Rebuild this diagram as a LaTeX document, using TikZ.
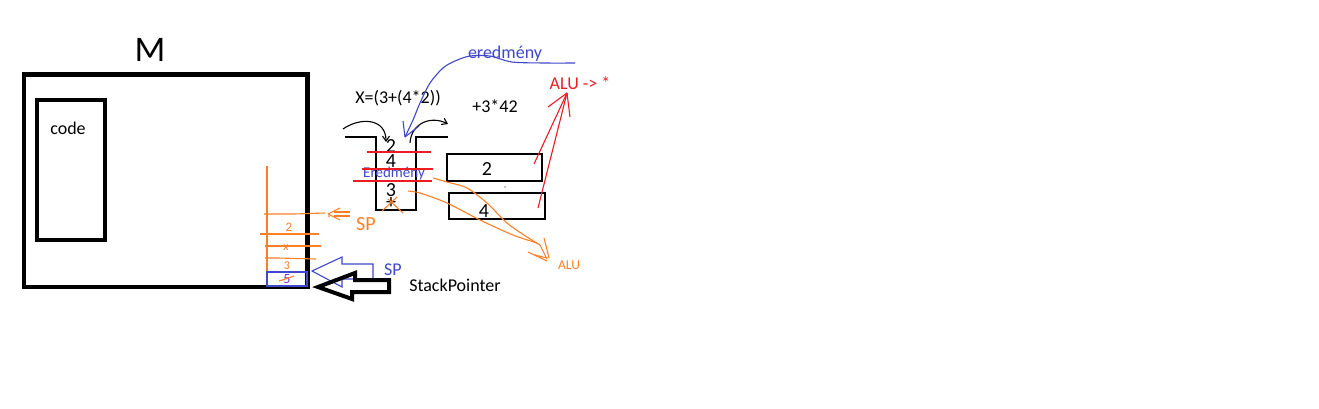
\documentclass[tikz,border=0pt]{standalone}
\usepackage{fontspec}
\setmainfont{Carlito}
\usetikzlibrary{arrows.meta}
\definecolor{porange}{RGB}{255,127,39}
\definecolor{pblue}{RGB}{63,72,204}
\definecolor{pred}{RGB}{237,28,36}
\begin{document}
\begin{tikzpicture}[x=1pt,y=-1pt,
  txt/.style={inner sep=0pt,font=\fontsize{18}{21}\selectfont},
  dig/.style={inner sep=0pt,font=\fontsize{20}{23}\selectfont},
  thin/.style={line width=1.1pt},
  barb/.style={-{Straight Barb[length=5pt,width=7pt]}}]
\useasboundingbox[fill=white] (0,0) rectangle (1319,408);

% memory
\node[inner sep=0pt,font=\fontsize{36}{40}\selectfont] (m) at (150,50) {M};
\draw[line width=4.5pt] (24,74.5) rectangle (307.5,287);
\draw[line width=4pt] (36.5,100) rectangle (104.5,240);
\node[txt] (code) at (68,128) {code};

% orange stack in memory
\draw[porange,thin] (267,166) -- (267,287);
\draw[porange,thin] (264,214) -- (294,214) -- (325,213);
\fill[porange] (329,216) circle (1pt);
\draw[porange,thin] (260,234) -- (319,234);
\draw[porange,thin] (265,246) -- (321,246);
\draw[porange,thin] (265,258) -- (278,258) -- (316,259);
\node[inner sep=0pt,text=porange,font=\fontsize{13}{15}\selectfont] (s2) at (289,227) {2};
\node[inner sep=0pt,text=porange,font=\fontsize{12}{15}\selectfont] (sx) at (286,248) {x};
\node[inner sep=0pt,text=porange,font=\fontsize{12}{15}\selectfont] (s3) at (287,266) {3};
\node[inner sep=0pt,text=pblue!70!magenta,font=\fontsize{14}{15}\selectfont] (s5) at (287,279) {5};
\draw[porange,thin] (279,281) -- (294,276);
\draw[pblue,thin] (267,272) rectangle (307,286);

% orange SP
\draw[porange,thin] (328,214) -- (340,208);
\draw[porange,thin] (328,214) -- (340,220);
\draw[porange,thin] (334,212) -- (350,212);
\draw[porange,thin] (334,216) -- (350,216);
\node[inner sep=0pt,text=porange,font=\fontsize{20}{22}\selectfont] (osp) at (366,224) {SP};

% blue hollow arrow
\draw[pblue,thin] (312,271) -- (342,257) -- (342,264) -- (373,264) -- (373,279) -- (342,279) -- (342,287) -- cycle;
\node[inner sep=0pt,text=pblue,font=\fontsize{18}{20}\selectfont] (bsp) at (393,270) {SP};

% black hollow arrow
\draw[line width=4pt,line join=miter] (318,287) -- (355,273) -- (355,280) -- (389,280) -- (389,292) -- (352,292) -- (352,299) -- cycle;
\node[txt] (spt) at (455,285) {StackPointer};

% expression texts
\node[txt] (expr) at (398,98) {X=(3+(4*2))};
\node[txt] (pre) at (495,106) {+3*42};
\node[txt,text=pblue] (ered) at (505,54) {eredmény};
\node[txt,text=pred] (alu) at (580,83) {ALU -> *};

% middle stack
\coordinate (stl) at (345,137);
\coordinate (str) at (448,137);
\draw[thin] (stl) -- (376,137) -- (376,210) -- (416,210) -- (416,137) -- (str);
\node[dig] (m2) at (391,146) {2};
\node[dig] (m4) at (391,161.5) {4};
\node[inner sep=0pt,text=pblue,font=\fontsize{15}{17}\selectfont] (mer) at (394,173.5) {Eredmény};
\node[dig] (m3) at (391,190) {3};
\node[dig] (mp) at (391,203) {+};
\draw[pred,thin] (367,152) -- (431,152);
\draw[pred,thin] (362,169) -- (433,169);
\draw[pred,thin] (353,181) -- (432,181);
\draw[porange,thin] (382,211) -- (397,197);
\draw[porange,thin] (388,199) -- (403,213);

% curved arrows
\coordinate (c1s) at (343,129);
\coordinate (c1e) at (386,142);
\draw[thin,barb] (c1s) .. controls (360,117) and (386,118) .. (c1e);
\coordinate (c2s) at (410,143);
\coordinate (c2e) at (448,124);
\draw[thin,barb] (c2s) .. controls (411,124) and (430,115) .. (c2e);
\coordinate (bend) at (405,137);
\draw[pblue,thin] plot[smooth] coordinates {(575,63) (545,63) (512,62) (490,56) (470,56) (455,61) (443,68) (430,83) (420,103) (413,120) (bend)};
\draw[pblue,thin] (bend) -- (403,121);
\draw[pblue,thin] (bend) -- (419,126);

% boxes
\draw[thin] (447,154) rectangle (542,181);
\node[dig] (b2) at (487,169) {2};
\draw[thin] (449,193) rectangle (545,219);
\node[dig] (b4) at (484,211) {4};
\fill (505,187) circle (0.7pt);

% red lines to ALU
\coordinate (rc) at (567,93);
\draw[pred,thin] (rc) -- (534,164);
\draw[pred,thin] (rc) -- (538,208);
\draw[pred,thin] (rc) -- (548,107);
\draw[pred,thin] (rc) -- (570,117);

% orange curves to ALU
\coordinate (oe) at (540,245);
\draw[porange,thin] plot[smooth] coordinates {(433,178) (447,182) (467,188) (487,203) (507,223) (527,237) (oe)};
\draw[porange,thin] plot[smooth] coordinates {(408,191) (420,193) (447,203) (480,220) (513,235) (537,243)};
\draw[porange,thin] (oe) -- (547,259);
\draw[porange,thin] (528,252) -- (547,261);
\draw[porange,thin] (544,238) -- (549,258);
\draw[porange,thin] (535,255) -- (547,258);
\node[inner sep=0pt,text=porange,font=\fontsize{13.5}{15}\selectfont] (oalu) at (569,265) {ALU};
\end{tikzpicture}
\end{document}
